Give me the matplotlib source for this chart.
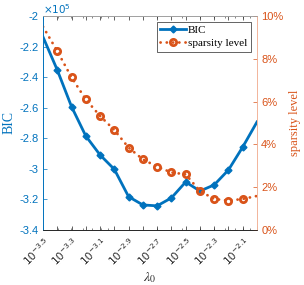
import matplotlib
matplotlib.use("Agg")
import matplotlib.pyplot as plt
import matplotlib.ticker as mticker
import matplotlib.transforms as mtrans
import numpy as np

# log10(lambda_0) grid
log_lam = [-3.5, -3.4, -3.3, -3.2, -3.1, -3.0, -2.9, -2.8,
           -2.7, -2.6, -2.5, -2.4, -2.3, -2.2, -2.1, -2.0]
# BIC, in units of 1e5
bic = [-2.137, -2.353, -2.593, -2.785, -2.909, -3.003, -3.182, -3.236,
       -3.242, -3.190, -3.086, -3.145, -3.105, -3.007, -2.857, -2.693]
# sparsity level in %
sparsity = [9.5, 8.36, 7.13, 6.1, 5.33, 4.67, 3.85, 3.3,
            2.96, 2.69, 2.6, 1.82, 1.45, 1.37, 1.45, 1.59]

blue = "#0072BD"
orange = "#D95319"
grey = "#262626"

lam = 10.0 ** np.array(log_lam)
mk = list(range(1, len(lam) - 1))

fig = plt.figure(figsize=(3.04, 2.85), dpi=100)
ax = fig.add_axes([43 / 304, 55 / 285, 214 / 304, 214 / 285])
ax2 = ax.twinx()

l1, = ax.plot(lam, bic, color=blue, lw=2, marker="D", ms=3.5, markevery=mk)
l2, = ax2.plot(lam, sparsity, color=orange, lw=2, ls=(0, (0.05, 2.2)),
               marker="o", ms=4.5, mfc="none", mew=2, markevery=mk,
               dash_capstyle="round")

ax.set_xscale("log")
ax.set_xlim(10 ** -3.5, 10 ** -2.0)
ax.set_ylim(-3.4, -2.0)
ax2.set_ylim(0, 10)

# x ticks every 0.1 in log10, labelled every 0.2
xt = 10.0 ** np.arange(-3.5, -1.99, 0.1)
ax.xaxis.set_major_locator(mticker.FixedLocator(xt))
ax.xaxis.set_minor_locator(mticker.LogLocator(base=10, subs=np.arange(2, 10)))
ax.xaxis.set_minor_formatter(mticker.NullFormatter())
labs = []
for i, v in enumerate(np.arange(-3.5, -1.99, 0.1)):
    labs.append(r"$10^{%.1f}$" % v if i % 2 == 0 and i < 15 else "")
ax.set_xticklabels(labs)
shift = mtrans.ScaledTranslation(5 / 100, 0, fig.dpi_scale_trans)
for t in ax.get_xticklabels():
    t.set_rotation(45)
    t.set_ha("right")
    t.set_va("top")
    t.set_rotation_mode("anchor")
    t.set_fontsize(7.5)
    t.set_color(grey)
    t.set_fontfamily("Liberation Sans")
    t.set_math_fontfamily("dejavusans")
    t.set_transform(t.get_transform() + shift)

ax.set_yticks(np.arange(-3.4, -1.99, 0.2))
ax.set_yticklabels(["-3.4", "-3.2", "-3", "-2.8", "-2.6", "-2.4", "-2.2", "-2"])
ax2.set_yticks(np.arange(0, 10.1, 2))
ax2.set_yticklabels(["0%", "2%", "4%", "6%", "8%", "10%"])

ax.tick_params(axis="both", which="both", direction="in", top=True)
ax.tick_params(axis="x", which="major", length=3, width=0.5, color=grey, pad=4)
ax.tick_params(axis="x", which="minor", length=1.5, width=0.4, color=grey)
ax.tick_params(axis="y", length=3, width=0.5, colors=blue, labelsize=8, pad=3)
ax2.tick_params(axis="y", direction="in", length=3, width=0.5, colors=orange,
                labelsize=8, pad=3)
for t in ax.get_yticklabels() + ax2.get_yticklabels():
    t.set_fontfamily("Liberation Sans")

for a in (ax, ax2):
    a.spines["top"].set_color("#a0a0a0")
    a.spines["bottom"].set_color(grey)
    a.spines["left"].set_color(blue)
    a.spines["right"].set_color("#f2b59b")
    for s in a.spines.values():
        s.set_linewidth(0.6)

ax.set_ylabel("BIC", color=blue, fontsize=10, family="Liberation Serif", labelpad=3)
ax2.set_ylabel("sparsity level", color=orange, fontsize=9, family="Liberation Serif",
               labelpad=4)
ax.set_xlabel(r"$\lambda_0$", fontsize=10, color=grey, math_fontfamily="stix",
              va="center")
ax.xaxis.set_label_coords(0.5, -0.222)
ax.text(0.0, 1.0, r"$\times10^5$", transform=ax.transAxes, color=blue,
        fontsize=7.5, family="Liberation Sans", math_fontfamily="dejavusans",
        va="bottom", ha="left")

leg = ax2.legend([l1, l2], ["BIC", "sparsity level"], loc="upper right",
                 prop={"family": "Liberation Serif", "size": 8},
                 fancybox=False, edgecolor=grey, framealpha=1,
                 handlelength=2.3, handletextpad=0.2, borderpad=0.35,
                 labelspacing=0.25, borderaxespad=0.5)
leg.get_frame().set_linewidth(0.5)

fig.savefig("out.png", dpi=100)
